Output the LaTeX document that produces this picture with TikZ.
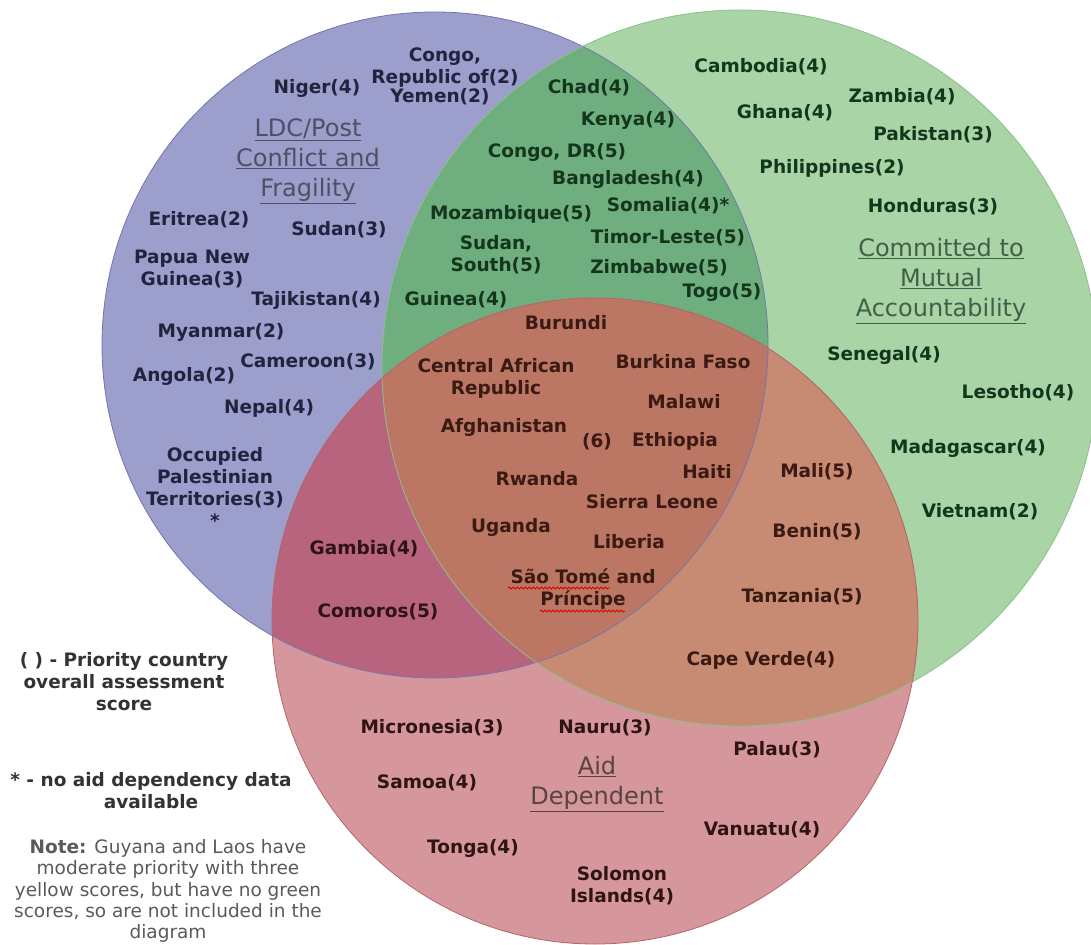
\documentclass[tikz,border=0pt]{standalone}
\usepackage{fontspec}
\setmainfont{DejaVu Sans}
\usepackage{tikz}
\usetikzlibrary{decorations.pathmorphing}

\definecolor{ldcfill}{HTML}{9C9ECB}
\definecolor{macfill}{HTML}{A8D4A6}
\definecolor{aidfill}{HTML}{D6979C}
\definecolor{ldcmac}{HTML}{6FAE7E}
\definecolor{ldcaid}{HTML}{B8647E}
\definecolor{macaid}{HTML}{C78A72}
\definecolor{allthree}{HTML}{BB7763}
\definecolor{ldcline}{HTML}{7476AE}
\definecolor{macline}{HTML}{8CC08A}
\definecolor{aidline}{HTML}{B5636A}
\definecolor{ldctext}{HTML}{23233F}
\definecolor{mactext}{HTML}{14361C}
\definecolor{aidtext}{HTML}{2E1414}
\definecolor{alltext}{HTML}{3A1A12}
\definecolor{legtext}{HTML}{333333}
\definecolor{notetext}{HTML}{5A5A5A}

\newcommand{\cfont}{\fontsize{18.5}{22}\selectfont\bfseries}
\newcommand{\lfont}{\fontsize{24}{30}\selectfont}

\tikzstyle{country} = [align=center, inner sep=0pt, font=\cfont]
\tikzstyle{ldc} = [country, text=ldctext]
\tikzstyle{mac} = [country, text=mactext]
\tikzstyle{aid} = [country, text=aidtext]
\tikzstyle{core} = [country, text=alltext]
\tikzstyle{setlabel} = [align=center, inner sep=0pt, font=\lfont]
\tikzstyle{legend} = [align=center, inner sep=0pt, font=\cfont, text=legtext]
\tikzstyle{note} = [align=center, inner sep=0pt, font=\fontsize{18.5}{21.3}\selectfont, text=notetext]
\tikzstyle{squiggle} = [red!85!black, line width=0.9pt, decorate, decoration={snake, amplitude=0.9pt, segment length=4pt}]

\begin{document}
\begin{tikzpicture}[x=1pt, y=-1pt]
		\useasboundingbox (0,0) rectangle (1091,944);
		\fill[white] (0,0) rectangle (1091,944);
		
		\coordinate (cldc) at (435,345);
		\coordinate (cmac) at (740,368);
		\coordinate (caid) at (595,621);
		
		% circles and overlaps
		\fill[ldcfill] (cldc) circle (333);
		\fill[macfill] (cmac) circle (358);
		\fill[aidfill] (caid) circle (323);
		\begin{scope}
			\clip (cldc) circle (333);
			\fill[ldcmac] (cmac) circle (358);
			\fill[ldcaid] (caid) circle (323);
		\end{scope}
		\begin{scope}
			\clip (cmac) circle (358);
			\fill[macaid] (caid) circle (323);
			\clip (cldc) circle (333);
			\fill[allthree] (caid) circle (323);
		\end{scope}
		\draw[ldcline, line width=0.8pt] (cldc) circle (333);
		\draw[macline, line width=0.8pt] (cmac) circle (358);
		\draw[aidline, line width=0.8pt] (caid) circle (323);
		
		% set names
		\node (ldclabel) [setlabel, text=ldctext!80!white] at (308,161) {\underline{LDC/Post}\\\underline{Conflict and}\\\underline{Fragility}};
		\node (maclabel) [setlabel, text=mactext!80!white] at (941,281) {\underline{Committed to}\\\underline{Mutual}\\\underline{Accountability}};
		\node (aidlabel) [setlabel, text=aidtext!80!white] at (597,784) {\underline{Aid}\\\underline{Dependent}};
		
		% LDC only
		\node (congorep) [ldc] at (445,68) {Congo,\\Republic of(2)};
		\node (niger) [ldc] at (317,88) {Niger(4)};
		\node (yemen) [ldc] at (440,97) {Yemen(2)};
		\node (eritrea) [ldc] at (199,220) {Eritrea(2)};
		\node (sudan) [ldc] at (339,230) {Sudan(3)};
		\node (png) [ldc] at (192,269) {Papua New\\Guinea(3)};
		\node (tajik) [ldc] at (316,300) {Tajikistan(4)};
		\node (myanmar) [ldc] at (221,332) {Myanmar(2)};
		\node (cameroon) [ldc] at (308,362) {Cameroon(3)};
		\node (angola) [ldc] at (184,376) {Angola(2)};
		\node (nepal) [ldc] at (269,408) {Nepal(4)};
		\node (opt) [ldc] at (215,487) {Occupied\\Palestinian\\Territories(3)\\*};
		
		% LDC and mutual accountability
		\node (chad) [mac] at (589,88) {Chad(4)};
		\node (kenya) [mac] at (628,120) {Kenya(4)};
		\node (congodr) [mac] at (557,152) {Congo, DR(5)};
		\node (bangla) [mac] at (628,179) {Bangladesh(4)};
		\node (somalia) [mac] at (668,206) {Somalia(4)*};
		\node (mozam) [mac] at (511,214) {Mozambique(5)};
		\node (timor) [mac] at (668,238) {Timor-Leste(5)};
		\node (ssudan) [mac] at (496,255) {Sudan,\\South(5)};
		\node (zimbabwe) [mac] at (659,268) {Zimbabwe(5)};
		\node (togo) [mac] at (722,292) {Togo(5)};
		\node (guinea) [mac] at (456,300) {Guinea(4)};
		
		% mutual accountability only
		\node (cambodia) [mac] at (761,67) {Cambodia(4)};
		\node (zambia) [mac] at (902,97) {Zambia(4)};
		\node (ghana) [mac] at (785,113) {Ghana(4)};
		\node (pakistan) [mac] at (933,135) {Pakistan(3)};
		\node (philippines) [mac] at (832,168) {Philippines(2)};
		\node (honduras) [mac] at (933,207) {Honduras(3)};
		\node (senegal) [mac] at (884,355) {Senegal(4)};
		\node (lesotho) [mac] at (1018,393) {Lesotho(4)};
		\node (madagascar) [mac] at (968,448) {Madagascar(4)};
		\node (vietnam) [mac] at (980,512) {Vietnam(2)};
		
		% all three
		\node (burundi) [core] at (566,323) {Burundi};
		\node (car) [core] at (496,378) {Central African\\Republic};
		\node (burkina) [core] at (683,362) {Burkina Faso};
		\node (malawi) [core] at (684,402) {Malawi};
		\node (afghan) [core] at (504,427) {Afghanistan};
		\node (six) [core] at (597,442) {(6)};
		\node (ethiopia) [core] at (675,441) {Ethiopia};
		\node (haiti) [core] at (707,472) {Haiti};
		\node (rwanda) [core] at (537,479) {Rwanda};
		\node (sierra) [core] at (652,502) {Sierra Leone};
		\node (uganda) [core] at (511,527) {Uganda};
		\node (liberia) [core] at (629,542) {Liberia};
		\node (stp) [core] at (583,589) {São Tomé and\\Príncipe};
		\draw[squiggle] (508,588) -- (610,588);
		\draw[squiggle] (540,611) -- (625,611);
		
		% mutual accountability and aid
		\node (mali) [core] at (817,472) {Mali(5)};
		\node (benin) [core] at (817,532) {Benin(5)};
		\node (tanzania) [core] at (802,597) {Tanzania(5)};
		\node (capeverde) [core] at (761,660) {Cape Verde(4)};
		
		% LDC and aid
		\node (gambia) [aid] at (364,549) {Gambia(4)};
		\node (comoros) [aid] at (378,612) {Comoros(5)};
		
		% aid only
		\node (micronesia) [aid] at (432,728) {Micronesia(3)};
		\node (nauru) [aid] at (605,728) {Nauru(3)};
		\node (palau) [aid] at (777,750) {Palau(3)};
		\node (samoa) [aid] at (427,783) {Samoa(4)};
		\node (vanuatu) [aid] at (762,830) {Vanuatu(4)};
		\node (tonga) [aid] at (473,848) {Tonga(4)};
		\node (solomon) [aid] at (622,886) {Solomon\\Islands(4)};
		
		% key
		\node (legscore) [legend] at (124,682) {( ) - Priority country\\overall assessment\\score};
		\node (legstar) [legend] at (151,791) {* - no aid dependency data\\available};
		\node (legnote) [note] at (168,891) {\textbf{Note:} Guyana and Laos have\\moderate priority with three\\yellow scores, but have no green\\scores, so are not included in the\\diagram};
		\end{tikzpicture}
\end{document}
